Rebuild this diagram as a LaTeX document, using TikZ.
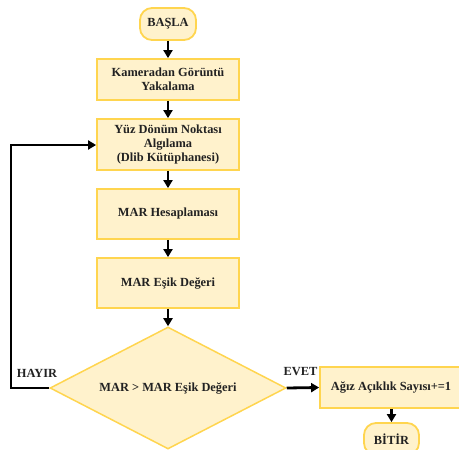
\documentclass[tikz,border=0pt]{standalone}
\usepackage{fontspec}
\setmainfont{Liberation Serif}
\usetikzlibrary{shapes.geometric,arrows.meta}
\definecolor{boxfill}{HTML}{FFF2CC}
\definecolor{boxline}{HTML}{FFD54F}
\definecolor{txt}{HTML}{222222}
\begin{document}
\begin{tikzpicture}[x=1pt,y=-1pt,
  every node/.style={font=\bfseries\fontsize{12.4}{14}\selectfont, text=txt},
  procbox/.style={draw=boxline, fill=boxfill, line width=1.8pt, minimum width=142pt, inner sep=0pt, align=center},
  termbox/.style={draw=boxline, fill=boxfill, line width=1.8pt, rounded corners=12pt, inner sep=0pt, align=center},
  decbox/.style={draw=boxline, fill=boxfill, line width=1.5pt, diamond, shape aspect=1.934, inner sep=0pt, minimum width=236pt, minimum height=122pt},
  flow/.style={line width=2.8pt, -{Triangle[length=8pt,width=9pt]}},
  lbl/.style={inner sep=0pt}
]
\useasboundingbox (0,0) rectangle (459,450);
\clip (0,0) rectangle (459,450);
\node[termbox, minimum width=56pt, minimum height=32pt] (start) at (168,24) {BAŞLA};
\node[procbox, minimum height=41pt] (cam) at (168,79.5) {Kameradan Görüntü\\Yakalama};
\node[procbox, minimum height=51pt] (face) at (168,144.5) {Yüz Dönüm Noktası\\Algılama\\(Dlib Kütüphanesi)};
\node[procbox, minimum height=50pt] (mar) at (168,214) {MAR Hesaplaması};
\node[procbox, minimum height=50pt] (thr) at (168,283) {MAR Eşik Değeri};
\node[decbox] (dec) at (168,388) {MAR > MAR Eşik Değeri};
\node[procbox, minimum width=142pt, minimum height=41pt] (cnt) at (391,387.5) {Ağız Açıklık Sayısı+=1};
\node[termbox, minimum width=55pt, minimum height=32pt] (end) at (391.5,439) {BİTİR};
\coordinate (lb) at (11,388);
\coordinate (lt) at (11,145);
\draw[flow] (start) -- (cam);
\draw[flow] (cam) -- (face);
\draw[flow] (face) -- (mar);
\draw[flow] (mar) -- (thr);
\draw[flow] (thr) -- (dec);
\draw[flow] (dec.east) -- (cnt.west);
\draw[flow] (cnt.south -| end) -- (end.north);
\draw[flow] (dec.west) -- (lb) -- (lt) -- (face.west |- lt);
\node[lbl] (hayir) at (37,373) {HAYIR};
\node[lbl] (evet) at (300.5,372) {EVET};
\end{tikzpicture}
\end{document}
